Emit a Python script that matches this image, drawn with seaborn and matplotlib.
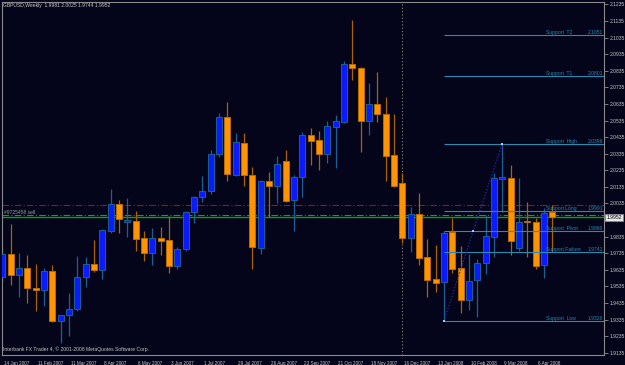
import numpy as np
import pandas as pd
import matplotlib
matplotlib.use("Agg")
import matplotlib.pyplot as plt
import matplotlib.transforms as mtransforms
import seaborn as sns

# ---------------- data ----------------
dates = pd.date_range("2007-01-14", periods=67, freq="7D")

opens = [1.9591, 1.9730, 1.9604, 1.9646, 1.9525, 1.9513, 1.9628, 1.9326, 1.9362, 1.9398,
         1.9591, 1.9670, 1.9634, 1.9869, 2.0032, 1.9923, 1.9929, 1.9827, 1.9736, 1.9827,
         1.9815, 1.9658, 1.9760, 1.9984, 2.0074, 2.0110, 2.0333, 2.0557, 2.0207, 2.0400,
         2.0207, 1.9766, 2.0171, 2.0140, 2.0291, 2.0056, 2.0195, 2.0448, 2.0418, 2.0333,
         2.0496, 2.0526, 2.0876, 2.0852, 2.0532, 2.0635, 2.0575, 2.0327, 2.0158, 1.9827,
         1.9972, 1.9712, 1.9579, 1.9561, 1.9863, 1.9646, 1.9453, 1.9573, 1.9676, 1.9833,
         2.0183, 2.0189, 1.9766, 1.9929, 1.9923, 1.9664, 1.9981]
highs = [1.9772, 1.9911, 1.9736, 1.9724, 1.9670, 1.9646, 1.9664, 1.9362, 1.9495, 1.9718,
         1.9712, 1.9815, 1.9881, 2.0122, 2.0056, 2.0068, 1.9990, 1.9869, 1.9887, 1.9893,
         1.9959, 1.9772, 1.9990, 2.0080, 2.0201, 2.0357, 2.0581, 2.0647, 2.0460, 2.0460,
         2.0255, 2.0177, 2.0225, 2.0321, 2.0357, 2.0207, 2.0466, 2.0490, 2.0472, 2.0532,
         2.0569, 2.0894, 2.1141, 2.0858, 2.0762, 2.0828, 2.0677, 2.0575, 2.0219, 2.0014,
         2.0098, 1.9821, 1.9785, 1.9869, 1.9947, 1.9779, 1.9730, 1.9700, 1.9966, 2.0219,
         2.0396, 2.0267, 2.0189, 2.0044, 1.9947, 2.0008, 2.0025]
lows = [1.9561, 1.9543, 1.9471, 1.9435, 1.9386, 1.9416, 1.9320, 1.9194, 1.9236, 1.9386,
        1.9531, 1.9622, 1.9579, 1.9857, 1.9857, 1.9833, 1.9748, 1.9688, 1.9664, 1.9724,
        1.9616, 1.9640, 1.9748, 1.9917, 2.0044, 2.0092, 2.0315, 2.0171, 2.0201, 2.0140,
        1.9640, 1.9730, 1.9953, 2.0038, 2.0044, 1.9869, 2.0074, 2.0267, 2.0237, 2.0279,
        2.0249, 2.0520, 2.0780, 2.0345, 2.0448, 2.0526, 2.0171, 2.0134, 1.9797, 1.9742,
        1.9664, 1.9471, 1.9501, 1.9326, 1.9616, 1.9374, 1.9392, 1.9350, 1.9610, 1.9712,
        1.9984, 1.9724, 1.9748, 1.9712, 1.9640, 1.9585, 1.9744]
closes = [1.9730, 1.9604, 1.9646, 1.9525, 1.9513, 1.9628, 1.9326, 1.9362, 1.9398, 1.9591,
          1.9670, 1.9634, 1.9875, 2.0032, 1.9941, 1.9935, 1.9821, 1.9736, 1.9827, 1.9809,
          1.9658, 1.9760, 1.9984, 2.0074, 2.0110, 2.0333, 2.0557, 2.0213, 2.0406, 2.0207,
          1.9772, 2.0171, 2.0140, 2.0273, 2.0050, 2.0195, 2.0448, 2.0412, 2.0333, 2.0502,
          2.0532, 2.0876, 2.0852, 2.0532, 2.0635, 2.0575, 2.0321, 2.0140, 1.9827, 1.9972,
          1.9706, 1.9573, 1.9555, 1.9857, 1.9640, 1.9453, 1.9567, 1.9676, 1.9839, 2.0189,
          2.0195, 1.9809, 1.9923, 1.9923, 1.9658, 1.9978, 1.9952]

support_names = ["Support  T2", "Support  T1", "Support  High", "Support Long",
                 "Support  Pivot", "Support Failure", "Support  Low"]
support_values = [2.1051, 2.0801, 2.0396, 1.9991, 1.9866, 1.9741, 1.9326]
support_labels = ["2.1051", "2.0801", "2.0396", "1.9991", "1.9866", "1.9741", "1.9326"]
support_start_bar = 53
support_high_bar = 60

stop_price = 2.0026
order_price = 1.9966
order_label = "#9725458 sell"
bid_price = 1.9952
bid_label = "1.9952"
marker_bar = 48

ytick_values = [2.1235, 2.1135, 2.1035, 2.0935, 2.0835, 2.0735, 2.0635, 2.0535, 2.0435,
                2.0335, 2.0235, 2.0135, 2.0035, 1.9935, 1.9835, 1.9735, 1.9635, 1.9535,
                1.9435, 1.9335, 1.9235, 1.9135]
ytick_labels = ["2.1235", "2.1135", "2.1035", "2.0935", "2.0835", "2.0735", "2.0635",
                "2.0535", "2.0435", "2.0335", "2.0235", "2.0135", "2.0035", "",
                "1.9835", "1.9735", "1.9635", "1.9535", "1.9435", "1.9335", "1.9235",
                "1.9135"]
xtick_labels = ["14 Jan 2007", "11 Feb 2007", "11 Mar 2007", "8 Apr 2007", "6 May 2007",
                "3 Jun 2007", "1 Jul 2007", "29 Jul 2007", "26 Aug 2007", "23 Sep 2007",
                "21 Oct 2007", "18 Nov 2007", "16 Dec 2007", "13 Jan 2008", "10 Feb 2008",
                "9 Mar 2008", "6 Apr 2008"]
title_text = "GBPUSD,Weekly  1.9981 2.0025 1.9744 1.9952"
footer_text = "Interbank FX Trader 4, \u00a9 2001-2008 MetaQuotes Software Corp."

# ---------------- style ----------------
BG = "#04041a"
TXT = "#c8c8c8"
SUP = "#2a8ab0"
sns.set_style("dark", {"axes.facecolor": BG, "figure.facecolor": BG})
plt.rcParams["font.family"] = ["Liberation Sans", "DejaVu Sans"]
FS = 3.6
FSX = 3.3

df = pd.DataFrame({"date": dates, "open": opens, "high": highs,
                   "low": lows, "close": closes})
df["x"] = np.arange(len(df))
df["up"] = df["close"] >= df["open"]

fig = plt.figure(figsize=(6.25, 3.65), dpi=100)
fig.patch.set_facecolor(BG)
ax = fig.add_axes([2 / 625, 10 / 365, 602 / 625, 353 / 365])
ax.set_facecolor(BG)
blend = mtransforms.blended_transform_factory(ax.transAxes, ax.transData)

# order / price lines
ax.axhline(stop_price, color="#a01010", lw=0.8, ls=(0, (6, 2, 1, 2)), zorder=1)
ax.axhline(order_price, color="#2f8f2f", lw=0.8, ls=(0, (6, 2, 1, 2)), zorder=1)
ax.axhline(bid_price, color="#00a800", lw=1.0, zorder=1)
ax.axvline(marker_bar, color="#9a8a6a", lw=0.8, ls=(0, (1, 2)), zorder=1)

# wicks
wick_col = np.where(df["up"], "#1d5f92", "#a86400")
ax.vlines(df["x"], df["low"], df["high"], colors=wick_col, lw=0.9, zorder=2)

# bodies
body_bottom = np.minimum(df["open"], df["close"])
body_h = np.maximum((df["close"] - df["open"]).abs(), 0.0003)
fill_col = np.where(df["up"], "#0a1cff", "#ff9300")
edge_col = np.where(df["up"], "#1d5f92", "#b86c00")
ax.bar(df["x"], body_h, bottom=body_bottom, width=0.72, color=fill_col,
       edgecolor=edge_col, linewidth=0.7, zorder=3)

# support lines
xmax = 72.22
ax.hlines(support_values, support_start_bar, xmax, colors=SUP, lw=0.8, zorder=4)
for name, val, lab in zip(support_names, support_values, support_labels):
    ax.text(0.9037, val, name, transform=blend, fontsize=FS, color=SUP,
            ha="left", va="bottom", zorder=5)
    ax.text(0.9985, val, lab, transform=blend, fontsize=FS, color=SUP,
            ha="right", va="bottom", zorder=5)

# dotted swing line low -> pivot -> high
low_val = support_values[-1]
high_val = support_values[2]
pivot_val = support_values[4]
swing = pd.DataFrame({"x": [support_start_bar, (support_start_bar + support_high_bar) / 2, support_high_bar],
                      "y": [low_val, pivot_val, high_val]})
sns.lineplot(data=swing, x="x", y="y", ax=ax, color="#2a2ab8", lw=0.9,
             linestyle=(0, (1, 1.5)), zorder=4, legend=False)
sns.scatterplot(data=swing, x="x", y="y", ax=ax, color="#b0c8ff", marker="s",
                s=4, linewidth=0, zorder=6, legend=False)

# order label
ax.text(0.004, order_price + 0.0002, order_label, fontsize=FS, color="#9a9a9a",
        ha="left", va="bottom", transform=blend)

# bid price box on axis
ax.text(1.004, bid_price, bid_label, fontsize=FS, color="black", ha="left", va="center",
        transform=blend,
        bbox=dict(boxstyle="square,pad=0.2", fc="#e6e6e6", ec="#909090", lw=0.5),
        clip_on=False, zorder=7)

# axes
ax.set_xlim(-0.05, xmax)
ax.set_ylim(1.9121, 2.1250)
ax.yaxis.tick_right()
ax.set_yticks(ytick_values)
ax.set_yticklabels(ytick_labels)
ax.set_xticks(df["x"].iloc[::4])
ax.set_xticklabels(xtick_labels)
ax.tick_params(axis="both", which="major", direction="out", length=3, width=0.6,
               colors="#909090", labelcolor=TXT, labelsize=FS, pad=1)
ax.tick_params(axis="x", length=3, pad=1.5, labelsize=FSX)
off = mtransforms.ScaledTranslation(2 / 100, 0, fig.dpi_scale_trans)
for lbl in ax.get_xticklabels():
    lbl.set_horizontalalignment("left")
    lbl.set_transform(lbl.get_transform() + off)
ax.set_xlabel("")
ax.set_ylabel("")
ax.grid(False)
for sp in ax.spines.values():
    sp.set_visible(True)
    sp.set_color("#8a8a8a")
    sp.set_linewidth(0.8)

fig.text(3 / 625, 1 - 5.5 / 365, title_text, fontsize=FS, color=TXT, ha="left", va="center")
ax.text(0.002, 0.008, footer_text, transform=ax.transAxes, fontsize=FS, color=TXT,
        ha="left", va="bottom")

fig.savefig("out.png", dpi=100, facecolor=BG)
